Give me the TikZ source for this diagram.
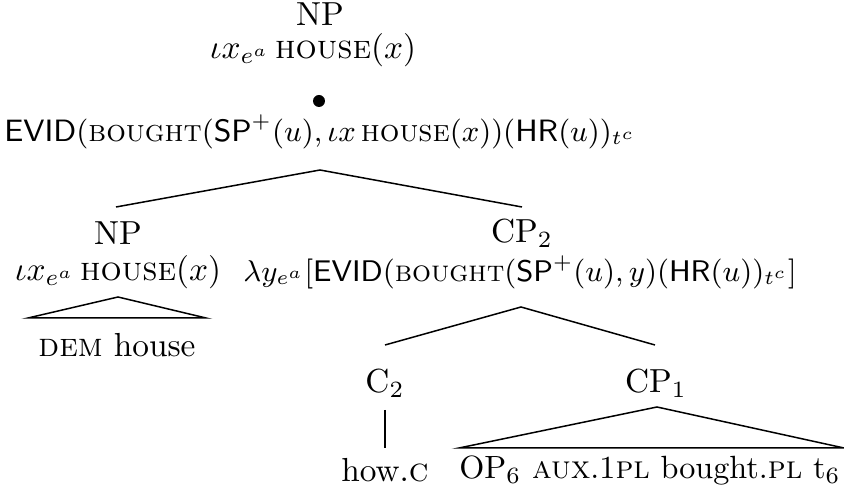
\documentclass[tikz,border=0pt]{standalone}
\usepackage{amsmath}
\begin{document}
\begin{tikzpicture}[x=0.3pt,y=-0.3pt,
  lab/.style={inner sep=0pt,anchor=center},
  br/.style={line width=0.45pt}]
\useasboundingbox (0,0) rectangle (844,491);
% top
\node[lab] (np0) at (320,14) {NP};
\node[lab] (sem0) at (313,50) {$\iota x_{e^a}\,\textsc{house}(x)$};
\fill (319,101) circle (6);
\node[lab,font=\fontsize{9.26}{11}\selectfont] (ev0) at (320,132) {$\textsf{EVID}(\textsc{bought}(\textsf{SP}^+(u),\iota x\,\textsc{house}(x))(\textsf{HR}(u))_{t^c}$};
\coordinate (a0) at (320,170);
\coordinate (l0) at (116,207);
\coordinate (r0) at (522,207);
\draw[br] (l0) -- (a0) -- (r0);
% level 2
\node[lab] (np1) at (118,233) {NP};
\node[lab] (sem1) at (118,272) {$\iota x_{e^a}\,\textsc{house}(x)$};
\node[lab] (cp2) at (522,233) {CP$_2$};
\node[lab,font=\fontsize{8.95}{11}\selectfont] (sem2) at (520,272) {$\lambda y_{e^a}[\textsf{EVID}(\textsc{bought}(\textsf{SP}^+(u),y)(\textsf{HR}(u))_{t^c}]$};
% NP triangle
\coordinate (t1a) at (118,297);
\coordinate (t1l) at (28,318);
\coordinate (t1r) at (206,318);
\draw[br] (t1a) -- (t1l) -- (t1r) -- cycle;
\node[lab] (dem) at (117,345) {\textsc{dem} house};
% CP2 branches
\coordinate (a2) at (521,307);
\coordinate (l2) at (385,345);
\coordinate (r2) at (655,345);
\draw[br] (l2) -- (a2) -- (r2);
\node[lab] (c2) at (385,383) {C$_2$};
\node[lab] (cp1) at (656,383) {CP$_1$};
\coordinate (c2t) at (385,410);
\coordinate (c2b) at (385,448);
\draw[br] (c2t) -- (c2b);
\coordinate (t2a) at (657,407);
\coordinate (t2l) at (459,448);
\coordinate (t2r) at (844,448);
\draw[br] (t2a) -- (t2l) -- (t2r) -- cycle;
\node[lab] (how) at (385,470) {how.\textsc{c}};
\node[lab,font=\fontsize{9.65}{11}\selectfont] (op) at (650,470) {OP$_6$ \textsc{aux}.1\textsc{pl} bought.\textsc{pl} t$_6$};
\end{tikzpicture}
\end{document}
